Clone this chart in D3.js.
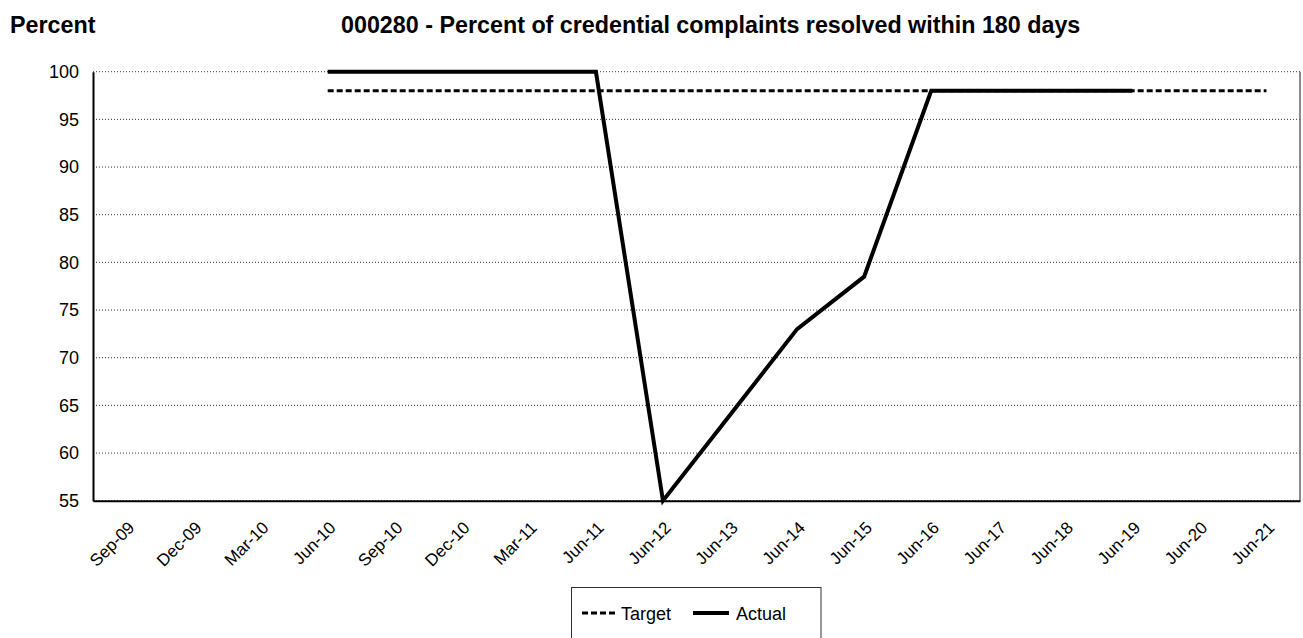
<!DOCTYPE html>
<html>
<head>
<meta charset="utf-8">
<script src="https://cdn.jsdelivr.net/npm/d3@7"></script>
<style>
  body { margin: 0; background: #fff; }
  svg { font-family: "Liberation Sans", Arial, sans-serif; }
</style>
</head>
<body>
<div id="chart"></div>
<script>
// chart data
var categories = ["Sep-09", "Dec-09", "Mar-10", "Jun-10", "Sep-10", "Dec-10", "Mar-11", "Jun-11",
    "Jun-12", "Jun-13", "Jun-14", "Jun-15", "Jun-16", "Jun-17", "Jun-18", "Jun-19", "Jun-20", "Jun-21"];
var targetValues = [null, null, null, 98, 98, 98, 98, 98, 98, 98, 98, 98, 98, 98, 98, 98, 98, 98];
var actualValues = [null, null, null, 100, 100, 100, 100, 100, 55, 64, 73, 78.5, 98, 98, 98, 98, null, null];
var yTicks = [55, 60, 65, 70, 75, 80, 85, 90, 95, 100];

var width = 1303, height = 638;
var plot = {left: 93, right: 1300, top: 71.7, bottom: 500.7};

var svg = d3.select("#chart").append("svg")
    .attr("width", width)
    .attr("height", height);

var x = d3.scaleBand()
    .domain(categories)
    .range([plot.left, plot.right]);

var y = d3.scaleLinear()
    .domain([55, 100])
    .range([plot.bottom, plot.top]);

function cx(d) { return x(d) + x.bandwidth() / 2; }

// titles
svg.append("text")
    .attr("x", 10).attr("y", 33)
    .style("font-size", "23.3px").style("font-weight", "bold")
    .text("Percent");

svg.append("text")
    .attr("x", 341).attr("y", 33)
    .style("font-size", "23.3px").style("font-weight", "bold")
    .text("000280 - Percent of credential complaints resolved within 180 days");

// gridlines
svg.append("g").selectAll("line")
    .data(yTicks)
    .enter().append("line")
    .attr("x1", plot.left).attr("x2", plot.right)
    .attr("y1", function(d) { return y(d); })
    .attr("y2", function(d) { return y(d); })
    .attr("stroke", "#333")
    .attr("stroke-width", 1)
    .attr("stroke-dasharray", "1,2");

// right border
svg.append("line")
    .attr("x1", plot.right).attr("x2", plot.right)
    .attr("y1", plot.top).attr("y2", plot.bottom)
    .attr("stroke", "#666").attr("stroke-width", 1.5);

// y axis
var yAxis = svg.append("g")
    .attr("transform", "translate(" + plot.left + ",0)")
    .call(d3.axisLeft(y).tickValues(yTicks).tickSize(0).tickPadding(14));
yAxis.select(".domain").attr("stroke", "#000").attr("stroke-width", 2);
yAxis.selectAll("text").style("font-size", "18px").attr("fill", "#000")
    .style("font-family", "'Liberation Sans', Arial, sans-serif");

// x axis
var xAxis = svg.append("g")
    .attr("transform", "translate(0," + plot.bottom + ")")
    .call(d3.axisBottom(x).tickSize(0).tickFormat(""));
xAxis.select(".domain").attr("stroke", "#000").attr("stroke-width", 2);

svg.append("g").selectAll("text")
    .data(categories)
    .enter().append("text")
    .attr("transform", function(d) {
        return "translate(" + (cx(d) + 9) + "," + (plot.bottom + 28) + ") rotate(-45)";
    })
    .attr("text-anchor", "end")
    .style("font-size", "17px")
    .text(function(d) { return d; });

// lines
var line = d3.line()
    .defined(function(d) { return d.v != null; })
    .x(function(d) { return cx(d.c); })
    .y(function(d) { return y(d.v); });

var targetData = categories.map(function(c, i) { return {c: c, v: targetValues[i]}; });
var actualData = categories.map(function(c, i) { return {c: c, v: actualValues[i]}; });

svg.append("path")
    .datum(targetData)
    .attr("d", line)
    .attr("fill", "none")
    .attr("stroke", "#000")
    .attr("stroke-width", 3)
    .attr("stroke-dasharray", "6,3");

svg.append("path")
    .datum(actualData)
    .attr("d", line)
    .attr("fill", "none")
    .attr("stroke", "#000")
    .attr("stroke-width", 4)
    .attr("stroke-linejoin", "miter");

// legend
var legend = svg.append("g");
legend.append("rect")
    .attr("x", 571.5).attr("y", 587.5)
    .attr("width", 249.5).attr("height", 70)
    .attr("fill", "#fff").attr("stroke", "#333").attr("stroke-width", 1);

legend.append("line")
    .attr("x1", 582).attr("x2", 617).attr("y1", 613).attr("y2", 613)
    .attr("stroke", "#000").attr("stroke-width", 3).attr("stroke-dasharray", "6,3");
legend.append("text")
    .attr("x", 621).attr("y", 619.5)
    .style("font-size", "18px")
    .text("Target");

legend.append("line")
    .attr("x1", 693).attr("x2", 729).attr("y1", 613).attr("y2", 613)
    .attr("stroke", "#000").attr("stroke-width", 4);
legend.append("text")
    .attr("x", 736).attr("y", 619.5)
    .style("font-size", "18px")
    .text("Actual");
</script>
</body>
</html>
